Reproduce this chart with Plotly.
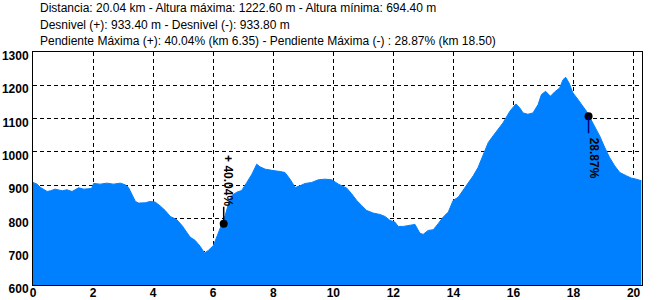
import plotly.graph_objects as go

km = [0.00, 0.14, 0.25, 0.47, 0.58, 0.74, 0.97, 1.13, 1.30, 1.52, 1.69, 1.85, 1.95, 2.02, 2.24, 2.46, 2.68, 2.91,
      3.07, 3.18, 3.30, 3.41, 3.52, 3.74, 3.90, 4.07, 4.24, 4.40, 4.57, 4.79, 4.96, 5.07, 5.23, 5.40, 5.57, 5.71,
      5.84, 6.01, 6.12, 6.29, 6.40, 6.51, 6.62, 6.79, 6.95, 7.12, 7.29, 7.45, 7.56, 7.73, 7.89, 8.06, 8.23, 8.39,
      8.56, 8.73, 8.89, 9.06, 9.28, 9.50, 9.72, 9.95, 10.17, 10.37, 10.45, 10.61, 10.78, 10.94, 11.11, 11.33,
      11.55, 11.72, 11.89, 12.05, 12.16, 12.33, 12.55, 12.72, 12.88, 12.99, 13.16, 13.33, 13.49, 13.66, 13.83,
      13.99, 14.16, 14.32, 14.49, 14.66, 14.82, 14.99, 15.16, 15.32, 15.49, 15.65, 15.88, 16.08, 16.21, 16.32,
      16.48, 16.65, 16.82, 16.93, 17.07, 17.23, 17.37, 17.54, 17.65, 17.74, 17.85, 17.98, 18.11, 18.26, 18.43,
      18.54, 18.70, 18.87, 19.04, 19.20, 19.37, 19.54, 19.76, 19.93, 20.09, 20.26]
elev = [908, 903, 893, 881, 883, 888, 883, 886, 881, 892, 888, 888, 890, 905, 903, 906, 903, 906,
        901, 893, 869, 851, 846, 847, 851, 849, 837, 824, 806, 796, 779, 764, 744, 734, 716, 696,
        704, 719, 744, 779, 809, 844, 869, 879, 884, 908, 933, 963, 955, 948, 945, 943, 941, 938,
        918, 893, 898, 905, 908, 916, 918, 916, 903, 893, 891, 874, 854, 839, 824, 816,
        812, 806, 794, 789, 776, 776, 779, 782, 756, 752, 764, 766, 784, 804, 819,
        854, 864, 884, 903, 928, 953, 993, 1028, 1048, 1068, 1087, 1122, 1144, 1132, 1117,
        1113, 1117, 1142, 1172, 1182, 1167, 1180, 1192, 1217, 1224, 1207, 1177, 1162, 1144, 1122,
        1104, 1078, 1048, 1013, 983, 958, 938, 928, 921, 918, 913]

slope_km = [6.35, 18.50]
slope_elev = [784, 1107]
slope_labels = ["+ 40.04%", "28.87%"]

x_ticks = list(range(0, 21, 2))
y_ticks = list(range(600, 1301, 100))

header = [
    "Distancia: 20.04 km - Altura máxima: 1222.60 m - Altura mínima: 694.40 m",
    "Desnivel (+): 933.40 m - Desnivel (-): 933.80 m",
    "Pendiente Máxima (+): 40.04% (km 6.35) - Pendiente Máxima (-) : 28.87% (km 18.50)",
]

fig = go.Figure()
fig.add_trace(go.Scatter(x=km, y=elev, mode="lines", fill="tozeroy",
                         line=dict(color="#0080FF", width=1), fillcolor="#0080FF",
                         hoverinfo="skip"))
fig.add_trace(go.Scatter(x=slope_km, y=slope_elev, mode="markers",
                         marker=dict(color="black", size=8), hoverinfo="skip"))

font_main = "Liberation Sans, Arial, sans-serif"

# header lines
for i, t in enumerate(header):
    fig.add_annotation(x=0, y=1, xref="paper", yref="paper", text=t, showarrow=False,
                       xanchor="left", yanchor="middle", xshift=5, yshift=[44, 27, 11][i],
                       font=dict(family=font_main, size=12, color="black"))

# slope annotations: (line direction in px, line colour, text offset in px)
styles = [(17, "black", 43), (-17, "#000080", -42)]
for i in range(2):
    ln, col, off = styles[i]
    fig.add_shape(type="line", xref="x", yref="y", xsizemode="pixel", ysizemode="pixel",
                  xanchor=slope_km[i], yanchor=slope_elev[i], x0=0, x1=0, y0=0, y1=ln,
                  line=dict(color=col, width=1.5), layer="above")
    fig.add_annotation(x=slope_km[i], y=slope_elev[i], xref="x", yref="y", text=slope_labels[i],
                       showarrow=False, textangle=90, xshift=5, yshift=off,
                       font=dict(family=font_main, size=12, color="black", weight="bold"))

axis_common = dict(showline=True, linecolor="black", linewidth=1, mirror=True,
                   showgrid=True, gridcolor="black", gridwidth=1, griddash="4px,3px",
                   zeroline=False, ticks="", automargin=False,
                   tickfont=dict(family=font_main, size=12, color="black", weight="bold"))

fig.update_xaxes(range=[0, 20.28], tickvals=x_ticks, ticklabelstandoff=-3, **axis_common)
fig.update_yaxes(range=[600, 1300], tickvals=y_ticks, ticklabelshift=4, ticklabelstandoff=1, **axis_common)

fig.update_layout(width=658, height=300, margin=dict(l=33, r=16, t=52, b=15, autoexpand=False),
                  paper_bgcolor="white", plot_bgcolor="white", showlegend=False)

fig.write_html("out.html")
